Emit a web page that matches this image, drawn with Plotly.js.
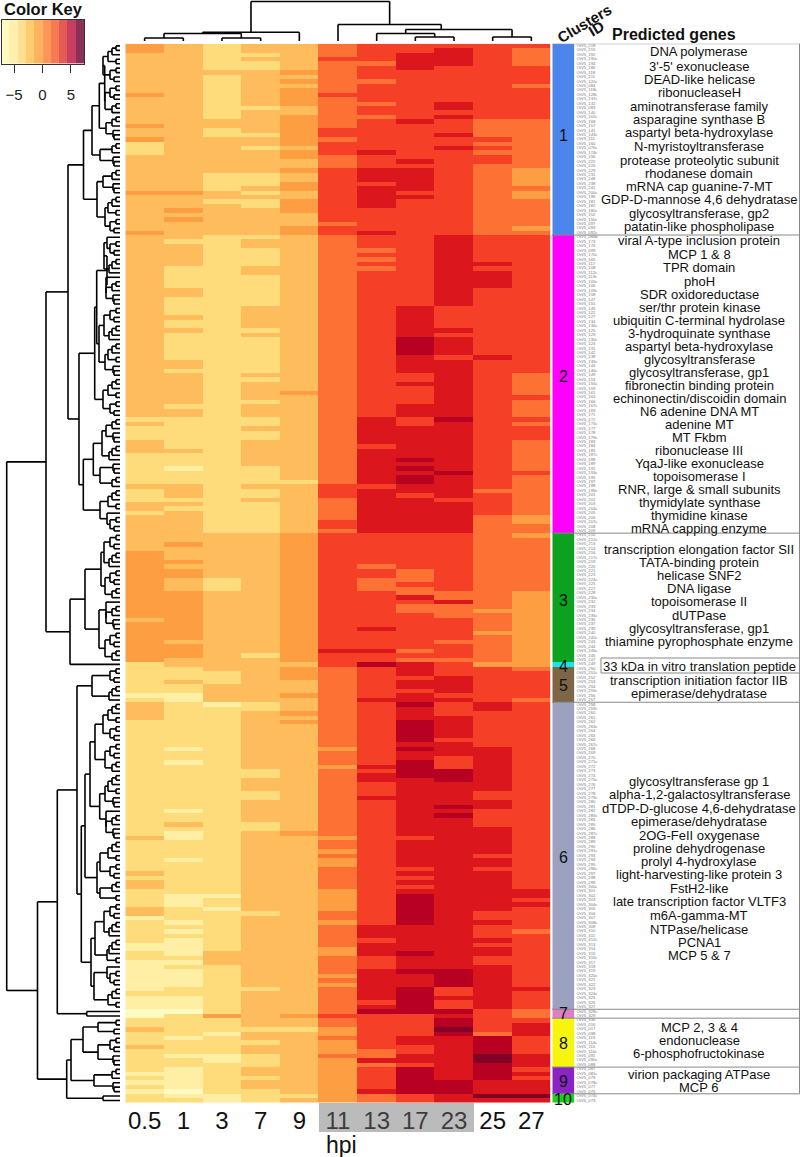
<!DOCTYPE html>
<html>
<head>
<meta charset="utf-8">
<script src="https://cdn.plot.ly/plotly-3.0.1.min.js"></script>
<style>html,body{margin:0;padding:0;background:#fff}#chart{width:800px;height:1157px}</style>
</head>
<body>
<div id="chart"></div>
<script>
// ---------- data: expression level (bin number of the colour key) per gene, written as level,count pairs from top to bottom
const timePoints = ["0.5","1","3","7","9","11","13","17","23","25","27"];
const binValues = [-6.57,-5.11,-3.65,-2.19,-0.73,0.73,2.19,3.65,5.11,6.57];
const keyTicks = [-5,0,5];

const hpi05 = [5,2,4,9,5,1,4,6,5,1,4,2,5,1,3,3,4,8,5,1,4,8,5,1,4,41,3,1,4,1,3,3,4,3,3,7,4,1,3,3,4,2,3,1,4,8,5,15,4,1,5,9,3,7,2,1,3,1,4,4,3,26,4,1,3,7,4,1,3,1,4,2,3,4,4,2,2,1,3,5,2,2,3,2,2,7,3,1,2,3,1,2,3,2,4,1,3,3,4,1,3,5,2,1,3,1,2,1,3,1,2,1,3,2];
const hpi1 = [4,33,5,1,4,3,5,1,4,1,5,1,4,4,3,1,4,5,3,5,4,2,3,4,4,1,3,2,4,1,3,6,4,2,3,1,4,7,3,1,4,2,3,7,4,1,3,3,2,1,3,3,4,3,3,1,4,1,3,1,4,7,5,1,4,3,5,1,4,1,5,2,4,3,5,11,4,1,5,3,4,2,3,3,4,1,3,2,2,2,3,10,2,1,3,2,2,1,3,10,2,1,3,2,4,1,3,1,2,2,3,4,2,1,3,7,2,3,3,3,2,1,3,1,2,1,3,1,2,4,3,1,2,1,3,1,2,4,3,2,2,3,1,1,3,5,2,1,3,3,2,1,3,2,2,5,1,1,2,1,3,1];
const hpi3 = [3,6,4,1,3,10,4,2,3,2,4,8,3,4,4,2,3,1,4,7,3,67,4,10,3,3,4,18,3,3,4,4,2,1,3,42,2,1,3,2,2,1,3,9,4,3,3,11,5,1,3,3,2,1,3,4,2,2,3,7,2,2];
const hpi7 = [4,2,3,1,4,1,3,2,4,8,3,1,4,5,3,1,4,2,3,1,4,5,3,3,4,1,3,1,4,1,3,2,4,6,3,1,4,2,3,4,4,2,3,7,4,5,3,1,4,1,3,8,4,1,3,1,4,4,3,1,4,3,3,2,4,1,3,2,4,6,3,4,4,1,3,2,4,1,3,7,4,27,3,1,4,10,3,2,4,13,3,2,4,3,3,2,4,5,3,2,4,18,3,1,4,16,3,1,4,8,3,1,4,2,3,1,4,2,3,3,4,2,3,1,4,2,3,3];
const hpi9 = [4,6,5,1,4,1,5,1,4,1,5,4,4,2,5,7,4,1,5,2,4,2,5,1,4,2,5,2,4,2,5,3,4,3,5,2,4,35,5,1,4,19,3,1,4,11,5,29,4,1,5,3,4,3,5,1,4,3,5,1,4,1,5,1,4,24,5,1,4,40,5,1,4,2,3,1,4,14,3,1,4,1];
const hpi11 = [6,3,7,1,6,7,7,1,6,7,7,2,6,1,7,3,6,3,7,12,6,1,7,2,6,56,7,3,6,5,7,2,6,1,7,26,8,1,7,3,6,18,5,1,6,3,5,1,6,15,5,1,6,2,5,1,6,1,5,2,6,5,5,5,6,2,5,1,6,5,5,2,6,4,5,1,6,1,5,1,6,6,7,1,6,2,5,2,6,1,5,3,6,1,5,10];
const hpi13 = [7,4,6,1,7,3,6,1,7,4,6,1,7,2,6,1,7,7,8,1,7,3,8,3,7,1,8,5,7,5,8,1,7,3,6,1,7,1,6,1,7,1,6,1,7,33,8,6,7,1,8,8,7,1,8,10,7,7,6,1,7,2,6,3,7,8,8,1,7,4,8,1,7,2,9,1,7,7,8,1,7,14,8,1,7,1,8,2,7,3,8,1,7,28,8,3,7,1,8,3,7,3,8,7,7,1,8,1,9,1,7,8,6,2,8,1,6,1,7,5,8,1,6,2];
const hpi17 = [7,2,8,4,7,11,8,1,7,8,8,1,7,1,8,5,7,1,8,1,7,24,8,7,9,4,8,4,7,2,8,1,7,4,8,3,7,2,8,7,9,1,8,1,9,1,8,1,9,2,8,2,7,1,8,8,7,8,6,3,7,1,6,2,8,1,7,1,6,2,7,8,6,1,7,1,6,1,8,3,7,1,8,2,7,1,8,2,9,1,8,3,9,5,8,1,9,1,8,2,9,4,8,13,7,1,8,6,7,1,8,1,7,1,8,1,7,1,8,1,9,7,8,6,9,1,8,3,9,1,8,3,9,6,7,5,8,2,7,2,8,2,7,1,9,6,7,2];
const hpi23 = [7,1,8,4,7,8,8,2,7,1,8,1,7,3,8,1,7,2,8,1,7,19,8,16,7,5,8,1,7,1,8,4,7,1,8,13,9,1,8,11,9,1,8,5,7,1,8,7,7,13,6,2,8,1,6,3,7,5,6,1,7,3,6,1,7,3,8,4,7,1,8,1,7,3,8,5,7,1,8,3,7,3,9,3,8,5,9,1,8,1,9,1,8,34,9,4,7,2,8,1,7,2,9,1,8,1,9,2,10,1,9,1,8,10,9,3,8,2];
const hpi25 = [7,17,6,4,7,1,6,1,7,1,6,1,7,2,6,16,7,6,8,1,7,1,8,4,7,15,8,1,7,29,6,1,7,5,6,21,5,1,6,4,5,1,6,6,5,1,7,8,8,2,7,8,8,10,7,2,8,2,7,4,8,6,7,1,8,2,7,1,8,9,7,2,8,1,7,3,8,1,7,1,8,2,7,2,8,10,7,5,6,1,9,4,10,2,9,4,8,3,10,1,8,1];
const hpi27 = [7,1,6,4,7,4,6,1,7,7,6,11,5,4,6,1,5,2,6,6,5,1,6,1,7,31,6,5,7,1,6,4,7,1,6,1,7,3,6,7,7,1,6,9,5,2,6,2,5,1,6,12,5,17,6,1,7,6,6,1,7,42,8,2,7,1,8,1,7,5,6,1,7,12,8,1,7,4,6,2,7,1,8,3,7,4,8,3,7,1,8,1,7,1,8,3,10,1,8,1];

const clusterIds = ["1","2","3","4","5","6","7","8","9","10"];
const clusterSizes = [43,67,29,1,8,69,2,11,6,2];

const genesCluster1 = ["DNA polymerase","3'-5' exonuclease","DEAD-like helicase","ribonucleaseH","aminotransferase family","asparagine synthase B","aspartyl beta-hydroxylase","N-myristoyltransferase","protease proteolytic subunit","rhodanese domain","mRNA cap guanine-7-MT","GDP-D-mannose 4,6 dehydratase","glycosyltransferase, gp2","patatin-like phospholipase"];
const genesCluster2 = ["viral A-type inclusion protein","MCP 1 & 8","TPR domain","phoH","SDR oxidoreductase","ser/thr protein kinase","ubiquitin C-terminal hydrolase","3-hydroquinate synthase","aspartyl beta-hydroxylase","glycosyltransferase","glycosyltransferase, gp1","fibronectin binding protein","echinonectin/discoidin domain","N6 adenine DNA MT","adenine MT","MT Fkbm","ribonuclease III","YqaJ-like exonuclease","topoisomerase I","RNR, large & small subunits","thymidylate synthase","thymidine kinase","mRNA capping enzyme"];
const genesCluster3 = ["transcription elongation factor SII","TATA-binding protein","helicase SNF2","DNA ligase","topoisomerase II","dUTPase","glycosyltransferase, gp1","thiamine pyrophosphate enzyme"];
const genesCluster4 = ["33 kDa in vitro translation peptide"];
const genesCluster5 = ["transcription initiation factor IIB","epimerase/dehydratase"];
const genesCluster6 = ["glycosyltransferase gp 1","alpha-1,2-galactosyltransferase","dTDP-D-glucose 4,6-dehydratase","epimerase/dehydratase","2OG-FeII oxygenase","proline dehydrogenase","prolyl 4-hydroxylase","light-harvesting-like protein 3","FstH2-like","late transcription factor VLTF3","m6A-gamma-MT","NTPase/helicase","PCNA1","MCP 5 & 7"];
const genesCluster8 = ["MCP 2, 3 & 4","endonuclease","6-phosphofructokinase"];
const genesCluster9 = ["virion packaging ATPase","MCP 6"];

// estimated row names (too small to read exactly)
const rowIds = [
"218","215","192","190c","194","186","118","211","120c","084","118c","128c","137c","132","083","140","162c","168","157","141",
"143c","111","160","076c","174c","156","222","226","229","231","248","238","241","200c","196","181","182","180c","152","150c",
"097","094","092c","084b","173","176","099","170c","165","117","108","112c","113c","105c","106","109c","158","147","151","145",
"122","127","134","136c","125","129","130c","124","131","142","138","135c","144","146c","149","153","155c","159","161","163",
"166","167c","169","171","172","175c","177","178","179c","183","184","185","187c","188","189","191","193c","195","197","198",
"199c","201","202","203","204c","205","206","207c","208","209","210","212c","213","214","216","217c","219","220","221","223",
"224c","225","227","228","230c","232","233","234","235c","236","237","239","240","242c","243","244","245c","246","247","249",
"250","251c","252","253","254","255c","256","257","258","259c","260","261","262","263c","264","265","266","267c","268","269",
"270","271c","272","273","274","275c","276","277","278","279c","280","281","282","283c","284","285","286","287c","288","289",
"290","291c","293","294","295","296c","297","298","299","300c","301","302","303","304c","305","306","307","308c","309","310",
"311","312c","313","314","315","316c","317","318","319","320c","321","322","323","324c","325","326","327","328c","329","330",
"016","017","098","119","114c","115","116c","091","090c","088","087","081c","079","078c","077","075","074c","073"];

// row dendrogram: small clades as [merge height, left, right]; 0 is a leaf
const p2=[116,0,0], p2b=[114,0,0];
const c3=[112,p2,0], c3b=[113,0,p2b];
const c4=[110,p2,p2b], c4b=[109,c3,0];
const c5=[108,c3,p2], c5b=[107,0,c4];
const c6=[106,c3,c3b], c6b=[107,c4b,p2];
const c7=[105,c4,c3], c7b=[106,0,c6];
const c8=[104,c4,c4b], c8b=[105,c5,c3b];
const c9=[103,c5,c4], c9b=[104,c5b,c4b];
const rowTree = [6.7,
  [46,
    [68,
      [83.5,
        [92,[99.3,[104.7,c9,c7],c6],[100,c3,c3b]],
        [97,[103,c3,c3b],[105,c5,c4]]],
      [79,
        [94.7,[96.7,[107,c9b,c7b],[99,c8,c8b]],c9],
        [83.3,[93.3,[102,c6,c4b],[100,c3b,c3]],[100,c5,c5b]]]],
    [70,
      [85,[101,c8,c7],[99,c7b,c7]],
      0]],
  [37.5,
    [57.3,
      [77,
        [92,c4,c4b],
        [81.3,
          [85,
            [90,[95,c9,c7],[99.7,c8b,c7b]],
            [97,[100,c5,c4],[100,c3,p2]]],
          [91,[95,c8,c6b],[94,c5b,c5]]]],
      [86.7,0,0]],
    [66.7,
      [71,
        [83,[98,p2,p2b],[98,c4,c3b]],
        [94,c3,c3b]],
      [103,0,0]]]];
const rowLeafHeight = 120;

// column dendrogram: [merge height, left, right, optional drawn position]
const columnTree = [1.5,
  [32.3,[33.5,[38,0,0],[38,0,0]],0],
  [24.5,0,[29.5,[33.5,0,[37,0,0]],[37,0,0],7.67]]];
const columnLeafHeight = 41;

// ---------- styling
const heatColors = ["#FFFBC0","#FFEFA5","#FEDB7B","#FEBC5C","#FE9E43","#FD7234","#F53F27","#DC161D","#B70022","#820025"];
const keyColors = ["#FFF9C4","#FFF0B0","#FEE090","#FECB70","#FEB35E","#FE9755","#F87A55","#E45A55","#C73E60","#8A3059"];
const clusterColors = ["#4C86EC","#FF00FF","#0CA11E","#17E5EE","#7D6547","#9AA1C1","#E17DC3","#F5F50D","#8A24C4","#1CD01C"];
const TEXT = "Liberation Sans, Arial, sans-serif";
const W = 800, H = 1157;
const px = v => v / W, py = v => 1 - v / H;
const domX = (a, b) => [px(a), px(b)];
const domY = (top, bottom) => [py(bottom), py(top)];

// ---------- helpers
function expand(pairs) {
  const out = [];
  for (let i = 0; i < pairs.length; i += 2)
    for (let k = 0; k < pairs[i + 1]; k++) out.push(pairs[i]);
  return out;
}
function stepped(colors) {
  const s = [];
  colors.forEach((c, i) => { s.push([i / colors.length, c]); s.push([(i + 1) / colors.length, c]); });
  return s;
}
function drawTree(root, leafH, horizontal) {
  const hs = [], ps = [];
  let next = 0;
  const seg = (h1, p1, h2, p2) => { hs.push(h1, h2, null); ps.push(p1, p2, null); };
  (function walk(n) {
    if (n === 0) return { p: next++, h: leafH };
    const a = walk(n[1]), b = walk(n[2]);
    const p = n.length > 3 ? n[3] : (a.p + b.p) / 2;
    seg(n[0], a.p, n[0], b.p);
    seg(n[0], a.p, a.h, a.p);
    seg(n[0], b.p, b.h, b.p);
    return { p: p, h: n[0] };
  })(root);
  return horizontal ? { x: hs, y: ps } : { x: ps, y: hs };
}

// ---------- traces
const columns = [hpi05,hpi1,hpi3,hpi7,hpi9,hpi11,hpi13,hpi17,hpi23,hpi25,hpi27].map(expand);
columns.forEach((c, i) => { if (c.length !== 238) throw new Error("column " + timePoints[i] + " has " + c.length); });
const nRows = 238;
const rows = Array.from({ length: nRows }, (_, i) => i);
const zHeat = rows.map(r => columns.map(c => binValues[c[r] - 1]));
const clusterOfRow = expand(clusterSizes.flatMap((n, i) => [i + 1, n]));
if (rowIds.length !== nRows) throw new Error("rowIds " + rowIds.length);
const rowTreeLine = drawTree(rowTree, rowLeafHeight, true);
const colTreeLine = drawTree(columnTree, columnLeafHeight, false);

const traces = [
  { type: "heatmap", x: timePoints.map((_, i) => i), y: rows, z: zHeat, zmin: -7.3, zmax: 7.3,
    colorscale: stepped(heatColors), showscale: false, hoverinfo: "skip", xaxis: "x", yaxis: "y" },
  { type: "scatter", mode: "lines", x: rowTreeLine.x, y: rowTreeLine.y, xaxis: "x2", yaxis: "y",
    line: { color: "#000", width: 1.6 }, hoverinfo: "skip", connectgaps: false },
  { type: "scatter", mode: "lines", x: colTreeLine.x, y: colTreeLine.y, xaxis: "x", yaxis: "y3",
    line: { color: "#000", width: 1.6 }, hoverinfo: "skip", connectgaps: false },
  { type: "heatmap", x: binValues, y: [0], z: [binValues], zmin: -7.3, zmax: 7.3,
    colorscale: stepped(keyColors), showscale: false, hoverinfo: "skip", xaxis: "x4", yaxis: "y4" },
  { type: "heatmap", x: [0], y: rows, z: clusterOfRow.map(c => [c]), zmin: 0.5, zmax: 10.5,
    colorscale: stepped(clusterColors), showscale: false, hoverinfo: "skip", xaxis: "x5", yaxis: "y" },
  { type: "scatter", mode: "text", x: rows.map(() => 0), y: rows, text: rowIds.map(s => "OtV5_" + s),
    textposition: "middle right", textfont: { family: TEXT, size: 4.2, color: "#777" },
    xaxis: "x6", yaxis: "y", hoverinfo: "skip", cliponaxis: false }
];

// ---------- text
const ann = [];
function label(x, y, text, o) {
  ann.push(Object.assign({ xref: "paper", yref: "paper", x: px(x), y: py(y), text: text, showarrow: false,
    xanchor: "center", yanchor: "middle", borderpad: 0, font: { family: TEXT, size: 13, color: "#111" } }, o || {}));
}
const geneLabelY = {
  a: [51.7,66,79.5,93,106,119,132.7,146,160,173.5,186.7,199.7,213.2,227],
  b: [240.7,255,268,281,294.5,307.5,320.5,333.5,346.5,359.5,372.5,385.5,398.5,411.5,424.5,437.5,450.5,463.5,476.5,489.5,502.5,515.5,528.5],
  c: [549,562,575.5,588.5,601.7,615,628,641.7],
  d: [666], e: [680.5,693.5],
  f: [781,794.7,808.2,821.2,835,848,861,874,888,902,915,929,942,955],
  g: [1027.5,1040.5,1053.7], h: [1074,1087]
};
[[genesCluster1,"a"],[genesCluster2,"b"],[genesCluster3,"c"],[genesCluster4,"d"],[genesCluster5,"e"],[genesCluster6,"f"],[genesCluster8,"g"],[genesCluster9,"h"]]
  .forEach(([names, k]) => names.forEach((n, i) => label(699, geneLabelY[k][i], n)));
const clusterLabelY = [135.5,376,600,666,685,857,1013.5,1043,1081,1099];
clusterIds.forEach((c, i) => label(563.3, clusterLabelY[i], c, { font: { family: TEXT, size: 16, color: "#111" } }));
label(43.5, 8.5, "<b>Color Key</b>", { font: { family: TEXT, size: 16.5, color: "#111" } });
label(674, 34, "<b>Predicted genes</b>", { font: { family: TEXT, size: 16, color: "#111" } });
label(584, 23, "<b>Clusters</b>", { textangle: -31, font: { family: TEXT, size: 15, color: "#111" } });
label(596, 29, "<b>ID</b>", { textangle: -31, font: { family: TEXT, size: 15, color: "#111" } });
label(341, 1144.5, "hpi", { font: { family: TEXT, size: 23, color: "#111" } });

// ---------- shapes
const shapes = [];
shapes.push({ type: "rect", layer: "below", xref: "paper", yref: "paper", x0: px(601), x1: px(799.5), y0: py(658), y1: py(673),
  line: { color: "#888", width: 1 }, fillcolor: "#fff" });
let cum = 0;
const hline = r => shapes.push({ type: "line", layer: "above", xref: "paper", yref: "y", x0: px(552), x1: px(800), y0: r - 0.5, y1: r - 0.5,
  line: { color: "#888", width: 1 } });
hline(0);
clusterSizes.slice(0, 9).forEach((n, i) => { cum += n; if (i !== 2 && i !== 3) hline(cum); });
shapes.push({ type: "line", layer: "above", xref: "paper", yref: "paper", x0: px(799.5), x1: px(799.5), y0: py(43.7), y1: py(1093.5),
  line: { color: "#888", width: 1 } });
shapes.push({ type: "rect", layer: "above", xref: "paper", yref: "paper", x0: px(319), x1: px(474), y0: py(1103), y1: py(1132),
  fillcolor: "rgba(109,109,109,0.467)", line: { width: 0 } });

const hidden = { showgrid: false, zeroline: false, showticklabels: false, ticks: "", showline: false, fixedrange: true };

Plotly.newPlot("chart", traces, {
  width: W, height: H, margin: { l: 0, r: 0, t: 0, b: 0 }, paper_bgcolor: "#fff", plot_bgcolor: "rgba(0,0,0,0)",
  showlegend: false, hovermode: false, annotations: ann, shapes: shapes, font: { family: TEXT },
  xaxis: { domain: domX(125.3, 550.7), range: [-0.5, 10.5], anchor: "y", tickmode: "array",
    tickvals: timePoints.map((_, i) => i), ticktext: timePoints, ticks: "", tickfont: { family: TEXT, size: 24, color: "#111" },
    showgrid: false, zeroline: false, showline: false, fixedrange: true, ticklabelstandoff: 1 },
  yaxis: Object.assign({ domain: domY(43.7, 1102.7), range: [nRows - 0.5, -0.5], anchor: "x" }, hidden),
  xaxis2: Object.assign({ domain: domX(0, 125), range: [0, 125], anchor: "y" }, hidden),
  yaxis3: Object.assign({ domain: domY(0, 43.7), range: [43.7, 0], anchor: "x" }, hidden),
  xaxis4: { domain: domX(1.5, 84), range: [-7.22, 7.3], anchor: "y4", tickmode: "array", tickvals: keyTicks,
    ticktext: ["\u22125", "0", "5"], ticks: "outside", ticklen: 8.5, tickwidth: 1, tickcolor: "#333",
    tickfont: { family: TEXT, size: 15, color: "#222" }, showgrid: false, zeroline: false, showline: true, mirror: true,
    linecolor: "#333", linewidth: 1, fixedrange: true, ticklabelstandoff: 9 },
  yaxis4: Object.assign({}, hidden, { domain: domY(19.5, 63.7), range: [-0.5, 0.5], anchor: "x4", showline: true, mirror: true, linecolor: "#333", linewidth: 1 }),
  xaxis5: Object.assign({ domain: domX(552.3, 574.5), range: [-0.5, 0.5], anchor: "y" }, hidden),
  xaxis6: Object.assign({ domain: domX(576.5, 800), range: [0, 223.5], anchor: "y" }, hidden)
}, { displayModeBar: false, staticPlot: true });
</script>
</body>
</html>
